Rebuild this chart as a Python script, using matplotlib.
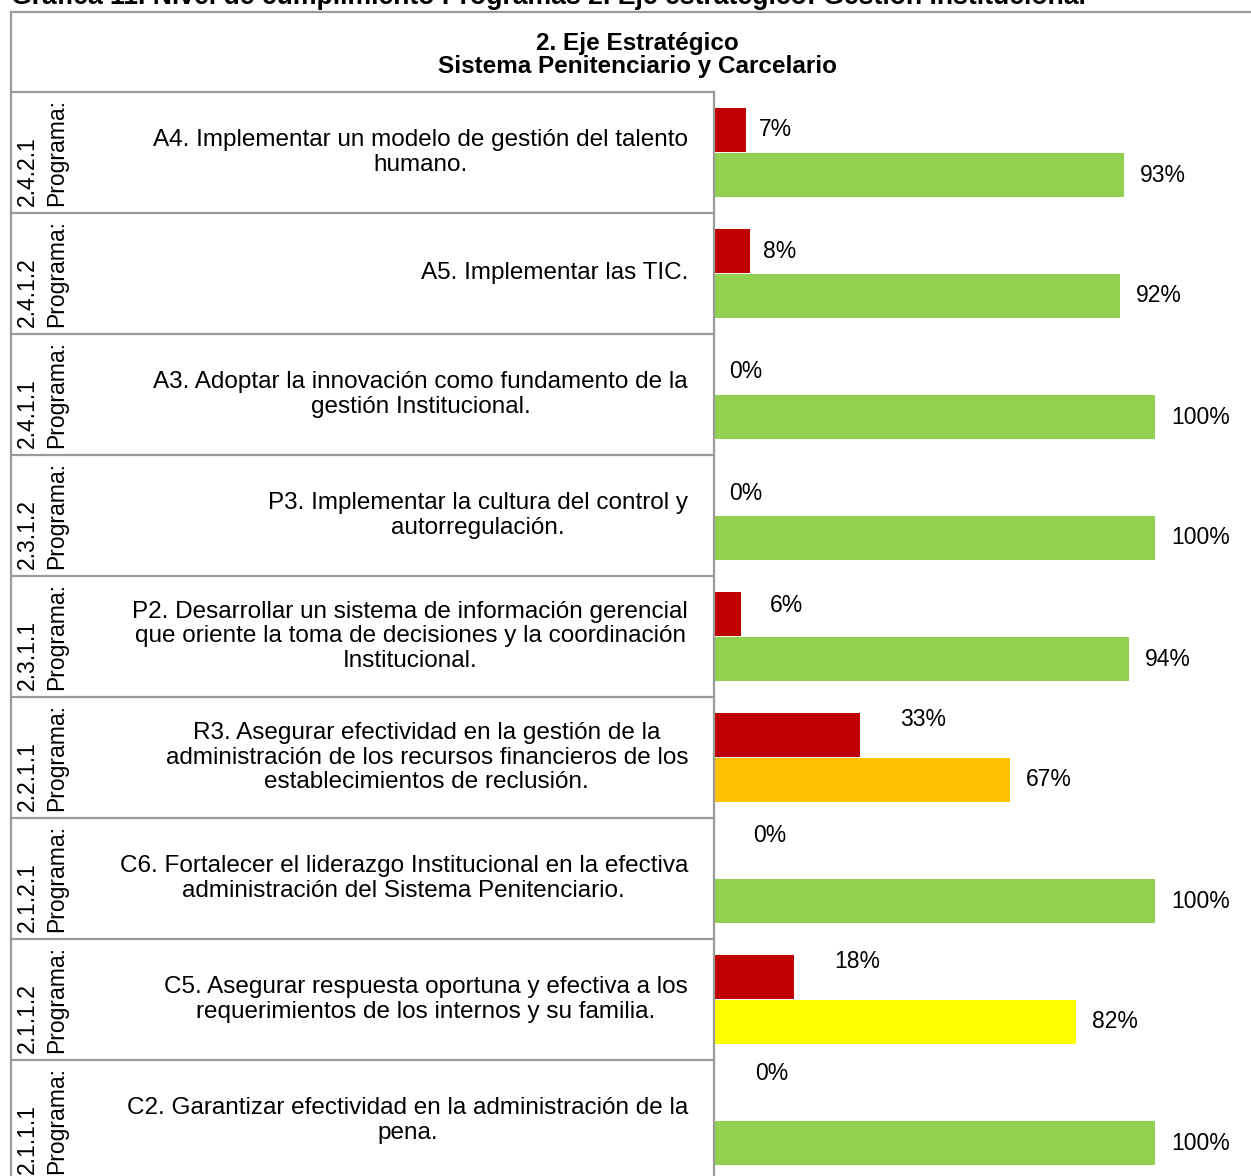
import matplotlib.pyplot as plt
from matplotlib.lines import Line2D

# Datos de la grafica
programas = ['2.4.2.1', '2.4.1.2', '2.4.1.1', '2.3.1.2', '2.3.1.1',
             '2.2.1.1', '2.1.2.1', '2.1.1.2', '2.1.1.1']
descripciones = [
    'A4. Implementar un modelo de gestión del talento\nhumano.',
    'A5. Implementar las TIC.',
    'A3. Adoptar la innovación como fundamento de la\ngestión Institucional.',
    'P3. Implementar la cultura del control y\nautorregulación.',
    'P2. Desarrollar un sistema de información gerencial\nque oriente la toma de decisiones y la coordinación\nInstitucional.',
    'R3. Asegurar efectividad en la gestión de la\nadministración de los recursos financieros de los\nestablecimientos de reclusión.',
    'C6. Fortalecer el liderazgo Institucional en la efectiva\nadministración del Sistema Penitenciario.',
    'C5. Asegurar respuesta oportuna y efectiva a los\nrequerimientos de los internos y su familia.',
    'C2. Garantizar efectividad en la administración de la\npena.',
]
pendiente = [7, 8, 0, 0, 6, 33, 0, 18, 0]
cumplido = [93, 92, 100, 100, 94, 67, 100, 82, 100]

titulo = 'Gráfica 11. Nivel de cumplimiento Programas 2. Eje estratégico: Gestión Institucional'
encabezado = '2. Eje Estratégico\nSistema Penitenciario y Carcelario'

# ajustes de las etiquetas rojas (pixeles)
dx_rojo = [13, 13, 14, 14, 28, 40, 38, 40, 40]
dy_rojo = [0, 0, 0, 0, -8, -15, -20, -15, -25]

W, H = 1251, 1176
ROJO = '#C00000'
VERDE = '#92D050'
NARANJA = '#FFC000'
AMARILLO = '#FFFF00'
GRIS = '#9a9a9a'


def color_cumplido(v):
    if v < 80:
        return NARANJA
    if v < 90:
        return AMARILLO
    return VERDE


def fx(x):
    return x / W


def fy(y):
    return 1 - y / H


fig = plt.figure(figsize=(W / 100, H / 100), dpi=100)
fuente = 'Liberation Sans'

# titulo cortado arriba
fig.text(fx(11), fy(4), titulo, fontsize=19.2, fontweight='bold',
         family=fuente, va='baseline', ha='left')

# encabezado
fig.text(fx(637), fy(55), encabezado, fontsize=17.5, fontweight='bold',
         family=fuente, ha='center', va='center', linespacing=1.05)


def linea(x0, y0, x1, y1):
    fig.add_artist(Line2D([fx(x0), fx(x1)], [fy(y0), fy(y1)],
                          transform=fig.transFigure, color=GRIS, lw=1.6))


linea(11, 12, 1260, 12)
linea(11, 12, 11, 1180)
linea(11, 92, 714, 92)
linea(714, 92, 714, 1180)

fila = 121
inicio = 92
n = len(programas)
for i in range(n):
    y0 = inicio + i * fila
    linea(11, y0 + fila, 714, y0 + fila)
    fig.text(fx(42), fy(y0 + fila / 2), programas[i] + '\nPrograma:',
             rotation=90, ha='center', va='center', ma='left',
             fontsize=16.5, family=fuente, linespacing=1.3)
    fig.text(fx(688), fy(y0 + fila / 2), descripciones[i],
             ha='right', va='center', ma='center',
             fontsize=17.5, family=fuente, linespacing=1.12)

# barras
ax = fig.add_axes([fx(715), fy(inicio + n * fila), 440 / W, n * fila / H])
ax.set_xlim(0, 100)
ax.set_ylim(n, 0)
ax.axis('off')

off_r = 38 / fila
off_v = 83 / fila
alto = 44 / fila
pos = list(range(n))
ax.barh([p + off_r for p in pos], pendiente, height=alto, color=ROJO, align='center')
ax.barh([p + off_v for p in pos], cumplido, height=alto,
        color=[color_cumplido(v) for v in cumplido], align='center')

for i in range(n):
    ax.annotate(f'{pendiente[i]}%', (pendiente[i], i + off_r),
                xytext=(dx_rojo[i], -dy_rojo[i]), textcoords='offset pixels',
                ha='left', va='center', fontsize=16.5, family=fuente,
                annotation_clip=False)
    ax.annotate(f'{cumplido[i]}%', (cumplido[i], i + off_v),
                xytext=(16, 0), textcoords='offset pixels',
                ha='left', va='center', fontsize=16.5, family=fuente,
                annotation_clip=False)

fig.savefig('out.png', dpi=100)
